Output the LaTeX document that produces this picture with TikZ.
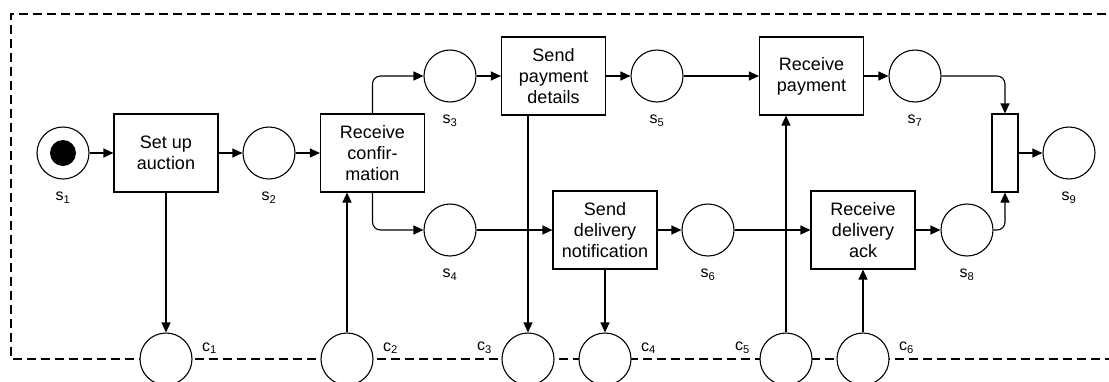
\documentclass[tikz,border=0pt]{standalone}
\usepackage{fontspec}
\setmainfont{Liberation Sans}
\usetikzlibrary{arrows.meta}

\begin{document}
\begin{tikzpicture}[->,
					>={Triangle[length=10pt, width=9pt]},
					x=1pt, y=-1pt,
					line width=1.1pt,
					place/.style={circle, draw, fill=white, minimum size=52pt, inner sep=0pt},
					token/.style={circle, fill=black, minimum size=26pt, inner sep=0pt},
					trans/.style={rectangle, draw, fill=white, minimum width=104pt, minimum height=78pt,
						align=center, inner sep=1pt, font=\fontsize{18}{21}\selectfont},
					joinbar/.style={rectangle, draw, fill=white, minimum width=26pt, minimum height=78pt, inner sep=0pt},
					lbl/.style={font=\fontsize{16}{19}\selectfont, inner sep=0pt},
					sname/.style={label={[lbl, label distance=12pt]below:#1}},
					cright/.style={label={[lbl, label distance=9pt, yshift=11pt]east:#1}},
					cleft/.style={label={[lbl, label distance=9pt, yshift=11pt]west:#1}},
					frame/.style={-, dash pattern=on 9pt off 5pt}]

\useasboundingbox (0,0) rectangle (1109,381);
\draw[frame] (1120,14) -| (11,359) -- (1120,359);

% places
\node[place, sname={s\textsubscript{1}}] (s1) at (63,153) {};
\node[token] (tok) at (s1) {};
\node[place, sname={s\textsubscript{2}}] (s2) at (269,153) {};
\node[place, sname={s\textsubscript{3}}] (s3) at (450,76) {};
\node[place, sname={s\textsubscript{4}}] (s4) at (450,230) {};
\node[place, sname={s\textsubscript{5}}] (s5) at (657,76) {};
\node[place, sname={s\textsubscript{6}}] (s6) at (708,230) {};
\node[place, sname={s\textsubscript{7}}] (s7) at (915,76) {};
\node[place, sname={s\textsubscript{8}}] (s8) at (967,230) {};
\node[place, sname={s\textsubscript{9}}] (s9) at (1069,153) {};

% channels
\node[place, cright={c\textsubscript{1}}] (c1) at (166,359) {};
\node[place, cright={c\textsubscript{2}}] (c2) at (347,359) {};
\node[place, cleft={c\textsubscript{3}}] (c3) at (528,359) {};
\node[place, cright={c\textsubscript{4}}] (c4) at (605,359) {};
\node[place, cleft={c\textsubscript{5}}] (c5) at (786,359) {};
\node[place, cright={c\textsubscript{6}}] (c6) at (863,359) {};

% transitions
\node[trans] (setup) at (166,153) {Set up\\auction};
\node[trans] (rconf) at (372.5,153) {Receive\\confir-\\mation};
\node[trans] (spay) at (553.5,76) {Send\\payment\\details};
\node[trans] (rpay) at (811.5,76) {Receive\\payment};
\node[trans] (sdel) at (605,230) {Send\\delivery\\notification};
\node[trans] (rack) at (863,230) {Receive\\delivery\\ack};
\node[joinbar] (join) at (1005,153) {};

\draw 	(s1) edge (setup)
		(setup) edge (s2)
		(s2) edge (rconf)
		(s3) edge (spay)
		(spay) edge (s5)
		(s5) edge (rpay)
		(rpay) edge (s7)
		(s4) edge (sdel)
		(sdel) edge (s6)
		(s6) edge (rack)
		(rack) edge (s8)
		(join) edge (s9)
		(setup) edge (c1)
		(sdel) edge (c4)
		(c6) edge (rack);
% links that leave a box off its middle
\draw (c2.north) -- (c2.north |- rconf.south);
\draw (c3.north |- spay.south) -- (c3.north);
\draw (c5.north) -- (c5.north |- rpay.south);
\draw[rounded corners=8pt] (rconf.north) |- (s3);
\draw[rounded corners=8pt] (rconf.south) |- (s4);
\draw[rounded corners=8pt] (s7) -| (join);
\draw[rounded corners=8pt] (s8) -| (join);
\end{tikzpicture}
\end{document}
